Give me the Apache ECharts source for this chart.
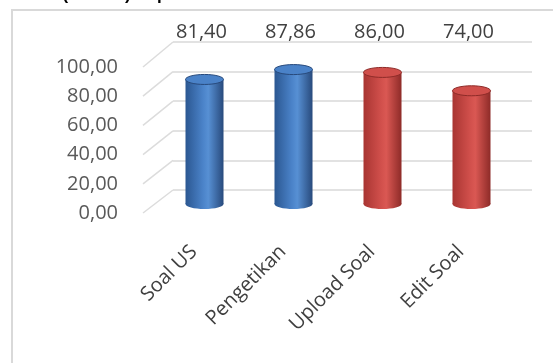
<!DOCTYPE html>
<html><head><meta charset="utf-8">
<script src="https://cdn.jsdelivr.net/npm/echarts@6/dist/echarts.min.js"></script>
<style>html,body{margin:0;padding:0;background:#fff}#c{width:553px;height:363px}</style>
</head><body><div id="c"></div>
<script>
const categories = ['Soal US', 'Pengetikan', 'Upload Soal', 'Edit Soal'];
const values = [81.40, 87.86, 86.00, 74.00];
const yTicks = [0, 20, 40, 60, 80, 100];
const titleText = 'Nilai (Persen) Capaian';

const FONT = '"Open Sans", "Liberation Sans", sans-serif';
const palette = [
  ['#2b5791', '#4a82c8', '#5790d4', '#284a7c'],
  ['#2b5791', '#4a82c8', '#5790d4', '#284a7c'],
  ['#a83532', '#d04f4b', '#da5853', '#8e2b28'],
  ['#a83532', '#d04f4b', '#da5853', '#8e2b28']
];
const fmt = v => v.toFixed(2).replace('.', ',');

const chart = echarts.init(document.getElementById('c'), null, {renderer: 'canvas'});

function grad(c) {
  return new echarts.graphic.LinearGradient(0, 0, 1, 0, [
    {offset: 0, color: c[0]}, {offset: 0.45, color: c[1]},
    {offset: 0.6, color: c[2]}, {offset: 1, color: c[3]}
  ]);
}

const option = {
  animation: false,
  backgroundColor: '#fff',
  grid: [
    {left: 173, right: 21, top: 42, bottom: 173},   // back wall
    {left: 120, right: 21, top: 67, bottom: 150},   // front labels
    {left: 160, right: 37, top: 51, bottom: 159}    // bars
  ],
  xAxis: [
    {gridIndex: 0, type: 'category', data: categories, show: false},
    {gridIndex: 1, type: 'category', data: categories, show: false},
    {gridIndex: 2, type: 'category', data: categories,
      axisLine: {show: false}, axisTick: {show: false},
      axisLabel: {rotate: 45, margin: 34, padding: [0, 15, 0, 0], color: '#404040', fontSize: 20, fontFamily: FONT, interval: 0}}
  ],
  yAxis: [
    {gridIndex: 0, type: 'value', min: 0, max: 100, interval: 20,
      axisLabel: {show: false}, axisLine: {show: false}, axisTick: {show: false},
      splitLine: {lineStyle: {color: '#d9d9d9', width: 1.5}}},
    {gridIndex: 1, type: 'value', min: 0, max: 100, interval: 20,
      axisLine: {show: false}, axisTick: {show: false}, splitLine: {show: false},
      axisLabel: {color: '#595959', fontSize: 20, fontFamily: FONT, margin: 2,
        formatter: v => yTicks.includes(v) ? fmt(v) : ''}},
    {gridIndex: 2, type: 'value', min: 0, max: 100, show: false}
  ],
  series: [{
    type: 'custom',
    xAxisIndex: 2, yAxisIndex: 2,
    data: values.map((v, i) => [i, v]),
    renderItem: function (params, api) {
      const i = api.value(0), v = api.value(1);
      const top = api.coord([i, v]);
      const base = api.coord([i, 0]);
      const w = 38, ry = 5;
      const c = palette[i];
      return {
        type: 'group',
        children: [
          {type: 'ellipse', shape: {cx: base[0], cy: base[1], rx: w / 2, ry: ry}, style: {fill: grad(c)}},
          {type: 'rect', shape: {x: top[0] - w / 2, y: top[1], width: w, height: base[1] - top[1]}, style: {fill: grad(c)}},
          {type: 'ellipse', shape: {cx: top[0], cy: top[1], rx: w / 2, ry: ry},
            style: {fill: c[1], stroke: c[3], lineWidth: 1}},
          {type: 'text', x: top[0] - 3, y: 32,
            style: {text: fmt(v), fill: '#404040', font: '20px ' + FONT, align: 'center', verticalAlign: 'middle'}}
        ]
      };
    }
  }]
};
chart.setOption(option);

const deco = [
  {type: 'rect', shape: {x: 12, y: 10, width: 700, height: 500}, style: {fill: 'none', stroke: '#d9d9d9', lineWidth: 2}, z: 0},
  {type: 'text', x: 22, y: 4, style: {text: titleText, font: 'bold 17px "Liberation Sans", sans-serif', fill: '#000', verticalAlign: 'bottom'}}
];
yTicks.forEach(v => {
  const yf = chart.convertToPixel({yAxisIndex: 1}, v);
  const yb = chart.convertToPixel({yAxisIndex: 0}, v);
  deco.push({type: 'line', shape: {x1: 143, y1: yf, x2: 173, y2: yb}, style: {stroke: '#dcdcdc', lineWidth: 1.5}});
});
chart.setOption({graphic: deco});
</script></body></html>
